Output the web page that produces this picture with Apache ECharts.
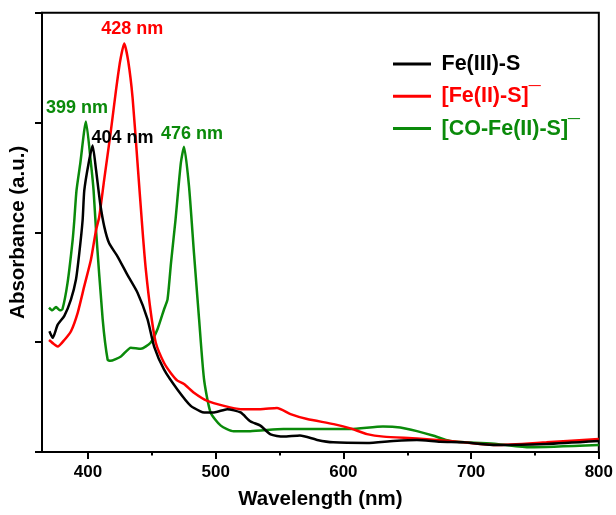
<!DOCTYPE html>
<html>
<head>
<meta charset="utf-8">
<style>html,body{margin:0;padding:0;background:#fff}#c{width:616px;height:515px}</style>
<script src="https://cdn.jsdelivr.net/npm/echarts@6/dist/echarts.min.js"></script>
</head>
<body>
<div id="c"></div>
<script>
// ---- data ----
var seriesNames = ['Fe(III)-S', '[Fe(II)-S]', '[CO-Fe(II)-S]'];
var seriesColors = ['#000000', '#ff0000', '#0a8a0a'];

var blackX = [369.8,372.4,376.3,381.5,386.7,390.6,393.2,395.8,397.1,400.5,403.6,406.3,409.6,412.8,416.6,423.2,431,438.8,446.6,451.8,459.6,470,480.5,488,491,498.7,509,519.5,527,535,543,553,566,579.5,592,618.5,639,657.6,675.8,694,720,759,800];
var blackY = [1.10,1.04,1.16,1.24,1.39,1.57,1.81,2.11,2.38,2.63,2.79,2.57,2.26,2.05,1.90,1.78,1.61,1.45,1.21,0.96,0.75,0.57,0.42,0.37,0.36,0.36,0.39,0.36,0.28,0.24,0.16,0.14,0.15,0.11,0.088,0.082,0.10,0.11,0.093,0.088,0.063,0.073,0.10];

var redX = [369.5,373.6,376.3,381.5,386.7,392,397.1,402.3,406.3,408.8,412.7,418,421.9,425.2,428.4,431.5,434.9,438.8,442.7,445.3,449.2,453.1,459.6,464.8,470,475.2,483,493.5,506.5,519.5,535,548,558.6,571.6,592.4,605.5,618.5,631.5,657.6,683.6,694,720,759,800];
var redY = [1.02,0.98,0.96,1.02,1.10,1.27,1.51,1.75,2.02,2.14,2.48,2.93,3.29,3.56,3.72,3.56,3.23,2.63,2.02,1.66,1.27,0.995,0.81,0.72,0.65,0.62,0.54,0.465,0.42,0.39,0.39,0.40,0.345,0.30,0.254,0.215,0.163,0.14,0.124,0.10,0.088,0.063,0.088,0.118];

var greenX = [369.5,372,375,378,380,384,388,389.3,391,394,398.4,402.3,404.4,406.3,411.5,415.4,417.4,425.8,433.6,441.4,449,454.5,459.6,462.3,465,468.5,472.7,475.2,479.1,483,487,490.9,496,504,514,527,553,579,605.5,631,644.5,657.6,670,683.6,720,746,800];
var greenY = [1.315,1.29,1.32,1.29,1.30,1.54,1.93,2.11,2.38,2.63,3.01,2.63,2.38,2.02,1.21,0.84,0.83,0.87,0.95,0.94,0.995,1.12,1.30,1.39,1.72,2.11,2.63,2.78,2.42,1.81,1.21,0.66,0.36,0.24,0.19,0.19,0.21,0.21,0.21,0.233,0.224,0.19,0.15,0.10,0.073,0.043,0.063];

var xTickValues = [400, 500, 600, 700, 800];
var xMinorTickValues = [450, 550, 650, 750];

// peak annotations: [series index, wavelength, absorbance, text]
var peakLabels = [
  [1, 428.4, 3.72, '428 nm'],
  [2, 398.4, 3.01, '399 nm'],
  [0, 403.6, 2.79, '404 nm'],
  [2, 475.2, 2.78, '476 nm']
];
var peakOffsets = [[8, -14], [-9, -13], [30, -8], [8, -13]];

function zip(xs, ys) { return xs.map(function (x, i) { return [x, ys[i]]; }); }
var seriesData = [zip(blackX, blackY), zip(redX, redY), zip(greenX, greenY)];

var FONT = '"Liberation Sans", Arial, sans-serif';

function markPointsFor(si) {
  var out = [];
  peakLabels.forEach(function (p, k) {
    if (p[0] !== si) return;
    out.push({
      coord: [p[1], p[2]],
      label: {
        show: true, position: 'inside', formatter: p[3], offset: peakOffsets[k],
        color: seriesColors[si], fontSize: 18, fontWeight: 'bold', fontFamily: FONT
      }
    });
  });
  return out;
}

var series = [];
[2, 1, 0].forEach(function (si) {
  series.push({
    name: seriesNames[si],
    type: 'line',
    data: seriesData[si],
    showSymbol: false,
    smooth: 0.2,
    lineStyle: { color: seriesColors[si], width: 2.5 },
    itemStyle: { color: seriesColors[si] },
    z: 3 + (2 - si),
    markPoint: {
      symbol: 'circle', symbolSize: 1,
      itemStyle: { color: 'rgba(0,0,0,0)' },
      data: markPointsFor(si)
    }
  });
});

var chart = echarts.init(document.getElementById('c'), null, { renderer: 'canvas' });
chart.setOption({
  animation: false,
  backgroundColor: '#fff',
  grid: { left: 40.5, right: 15.5, top: 12.7, bottom: 61, show: true, borderColor: '#000', borderWidth: 2, backgroundColor: 'transparent' },
  legend: {
    orient: 'vertical', left: 393, top: 53, padding: 0, itemGap: 10.3,
    icon: 'rect', itemWidth: 38, itemHeight: 3,
    data: seriesNames.map(function (n, i) { return { name: n, itemStyle: { color: seriesColors[i] }, textStyle: { color: seriesColors[i] } }; }),
    formatter: function (n) { return n.charAt(0) === '[' ? '{a|' + n + '¯}' : '{a|' + n + '}'; },
    textStyle: {
      fontFamily: FONT, fontWeight: 'bold', fontSize: 21.5, padding: [0, 0, 0, 5.5],
      rich: {
        a: { fontFamily: FONT, fontWeight: 'bold', fontSize: 21.5, lineHeight: 23 }
      }
    }
  },
  xAxis: [{
    type: 'value', min: 364, max: 800,
    name: 'Wavelength (nm)', nameLocation: 'middle', nameGap: 37,
    nameTextStyle: { fontFamily: FONT, fontWeight: 'bold', fontSize: 20.5, color: '#000' },
    axisLine: { onZero: false, lineStyle: { color: '#000', width: 2 } },
    axisTick: { show: true, length: 7, lineStyle: { color: '#000', width: 2 }, customValues: xTickValues },
    axisLabel: { margin: 12, customValues: xTickValues, fontFamily: FONT, fontWeight: 'bold', fontSize: 17, color: '#000' },
    splitLine: { show: false }
  }, {
    type: 'value', min: 364, max: 800, position: 'bottom',
    axisLine: { show: false },
    axisTick: { show: true, length: 3.5, lineStyle: { color: '#000', width: 2 }, customValues: xMinorTickValues },
    axisLabel: { show: false },
    splitLine: { show: false }
  }],
  yAxis: {
    type: 'value', min: 0, max: 4, interval: 1,
    name: 'Absorbance (a.u.)', nameLocation: 'middle', nameGap: 13, nameRotate: 90,
    nameTextStyle: { fontFamily: FONT, fontWeight: 'bold', fontSize: 20.5, color: '#000' },
    axisLine: { show: true, lineStyle: { color: '#000', width: 2 } },
    axisTick: { show: true, length: 7, lineStyle: { color: '#000', width: 2 } },
    axisLabel: { show: false },
    splitLine: { show: false }
  },
  series: series
});
</script>
</body>
</html>
